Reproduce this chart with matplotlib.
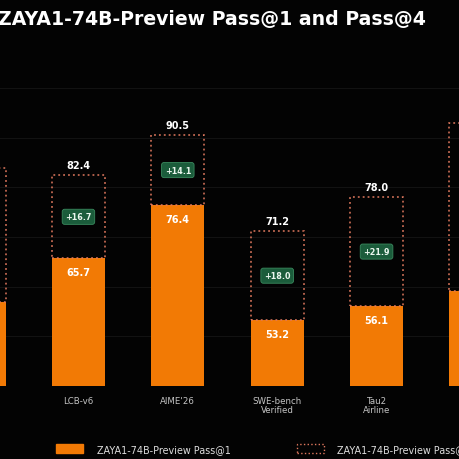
import numpy as np
import matplotlib.pyplot as plt
from matplotlib.patches import Patch

# benchmarks (the first and last ones sit outside the cropped view)
categories = ['', 'LCB-v6', "AIME'26", 'SWE-bench\nVerified', 'Tau2\nAirline', '']
pass1 = [57.0, 65.7, 76.4, 53.2, 56.1, 59.2]
pass4 = [83.8, 82.4, 90.5, 71.2, 78.0, 92.9]

BG = '#030303'
ORANGE = '#F27A05'
DOT = '#E0785E'
GREEN = '#1B5C3B'

fig = plt.figure(figsize=(4.6, 4.6), dpi=100, facecolor=BG)
W, H = 460.0, 460.0
# axes reach past the figure edges, the picture is a crop of a wider chart
ax = fig.add_axes([-70.6 / W, (H - 387) / H, 596.2 / W, (387 - 64) / H])
ax.set_facecolor(BG)

x = np.arange(len(categories))
bw = 0.535
p1 = np.array(pass1)
p4 = np.array(pass4)

ax.bar(x, p1 - 40, bottom=40, width=bw, color=ORANGE, zorder=3)
ax.bar(x, p4 - p1, bottom=p1, width=bw, fill=False, edgecolor=DOT,
       linestyle=(0, (1.2, 2.0)), linewidth=1.1, zorder=4)

for i in x:
    ax.text(i, p1[i] - 2.8, f'{p1[i]:.1f}', ha='center', va='center',
            color='white', fontsize=7, fontweight='bold', zorder=5)
    ax.text(i, p4[i] + 2.0, f'{p4[i]:.1f}', ha='center', va='center',
            color='white', fontsize=7, fontweight='bold', zorder=5)
    ax.text(i, (p1[i] + p4[i]) / 2, f'+{p4[i] - p1[i]:.1f}', ha='center', va='center',
            color='#EAF6EE', fontsize=5.8, fontweight='bold', zorder=6,
            bbox=dict(boxstyle='round,pad=0.38,rounding_size=0.3', fc=GREEN,
                      ec='#3A8A5E', lw=0.6))

ax.set_xlim(-0.5, len(categories) - 0.5)
ax.set_ylim(40, 105)
ax.set_yticks(np.arange(40, 101, 10))
ax.yaxis.grid(True, color='#121212', linewidth=0.8, zorder=0)
ax.set_axisbelow(True)
ax.tick_params(axis='y', left=False, labelleft=False)
ax.set_xticks(x)
ax.set_xticklabels(categories, color='#c4c4c4', fontsize=6.2, linespacing=1.1)
ax.tick_params(axis='x', length=0, pad=7)
for s in ax.spines.values():
    s.set_visible(False)

fig.text(-2 / W, 1 - 20 / H, 'ZAYA1-74B-Preview Pass@1 and Pass@4', ha='left', va='center',
         color='white', fontsize=13.6, fontweight='bold')

handles = [Patch(facecolor=ORANGE, edgecolor=ORANGE),
           Patch(facecolor='none', edgecolor=DOT, linestyle=':', linewidth=1.0)]
fig.legend(handles, ['ZAYA1-74B-Preview Pass@1', 'ZAYA1-74B-Preview Pass@4'],
           loc='center left', bbox_to_anchor=(56 / W, 1 - 450 / H), ncol=2,
           frameon=False, fontsize=6.9, labelcolor='#dddddd', borderpad=0,
           borderaxespad=0, handlelength=2.8, handleheight=1.0,
           handletextpad=1.45, columnspacing=6.9)

fig.savefig('out.png', dpi=100, facecolor=BG)
